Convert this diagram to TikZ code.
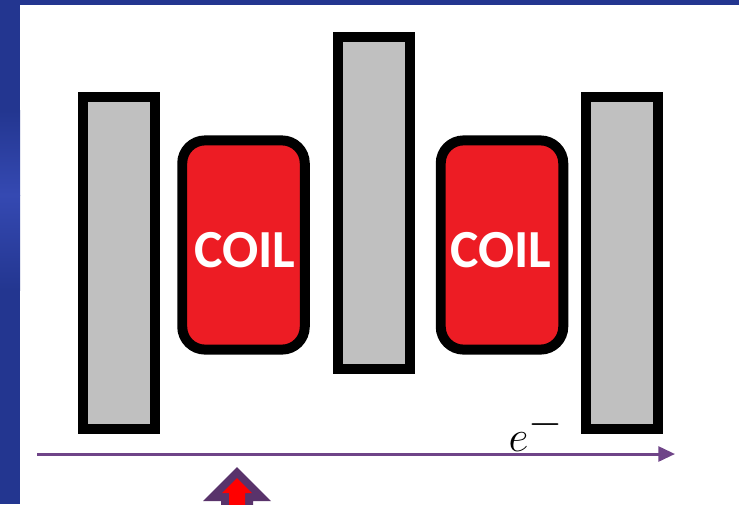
\documentclass[tikz,border=0pt]{standalone}
\usepackage{amsmath}
\usepackage{fontspec}
\setmainfont{Carlito}
\usepackage{tikz}
\usetikzlibrary{arrows.meta}
\definecolor{slideblue}{HTML}{233690}
\definecolor{slideglow}{HTML}{3549B2}
\definecolor{barfill}{HTML}{C0C0C0}
\definecolor{coilred}{HTML}{ED1C24}
\definecolor{beamviolet}{HTML}{6F4488}
\definecolor{markviolet}{HTML}{59336B}
\tikzset{
  bar/.style={draw=black, fill=barfill, line width=5.67pt, minimum width=72*0.567pt, minimum height=334*0.567pt, inner sep=0pt},
  coil/.style={draw=black, fill=coilred, line width=5.67pt, rounded corners=13pt, minimum width=123*0.567pt, minimum height=210*0.567pt, inner sep=0pt},
  coillabel/.style={text=white, font=\fontsize{30.5}{32}\selectfont\bfseries, inner sep=0pt},
}
\begin{document}
\begin{tikzpicture}[x=0.02cm, y=-0.02cm]
\useasboundingbox (0,0) rectangle (739,504);
\clip (0,0) rectangle (739,504);
\fill[slideblue] (0,0) rectangle (20,504);
\shade[top color=slideblue, bottom color=slideglow] (0,110) rectangle (20,195);
\shade[top color=slideglow, bottom color=slideblue] (0,195) rectangle (20,290);
\fill[slideblue] (0,0) rectangle (739,5);
\node[bar] (barleft) at (119,263) {};
\node[bar] (barmid) at (374,203) {};
\node[bar] (barright) at (622,263) {};
\node[coil] (coilleft) at (243.5,245) {};
\node[coil] (coilright) at (502,245) {};
\node[coillabel] (labelleft) at (245,250) {COIL};
\node[coillabel] (labelright) at (501,250) {COIL};
\coordinate (beamstart) at (37,454);
\coordinate (beamend) at (675,454);
\draw[beamviolet, line width=1.7pt, -{Triangle[length=9.5pt, width=8.5pt]}] (beamstart) -- (beamend); % electron path
\node[inner sep=0pt, font=\fontsize{34}{36}\selectfont] (electron) at (536,431) {$e^{-}$};
\fill[markviolet] (237,467) -- (271,501) -- (253,501) -- (253,510) -- (221,510) -- (221,501) -- (203,501) -- cycle; % outer arrow
\fill[red] (237,478) -- (252,493) -- (245,493) -- (245,510) -- (229,510) -- (229,493) -- (222,493) -- cycle; % inner arrow
\end{tikzpicture}
\end{document}
